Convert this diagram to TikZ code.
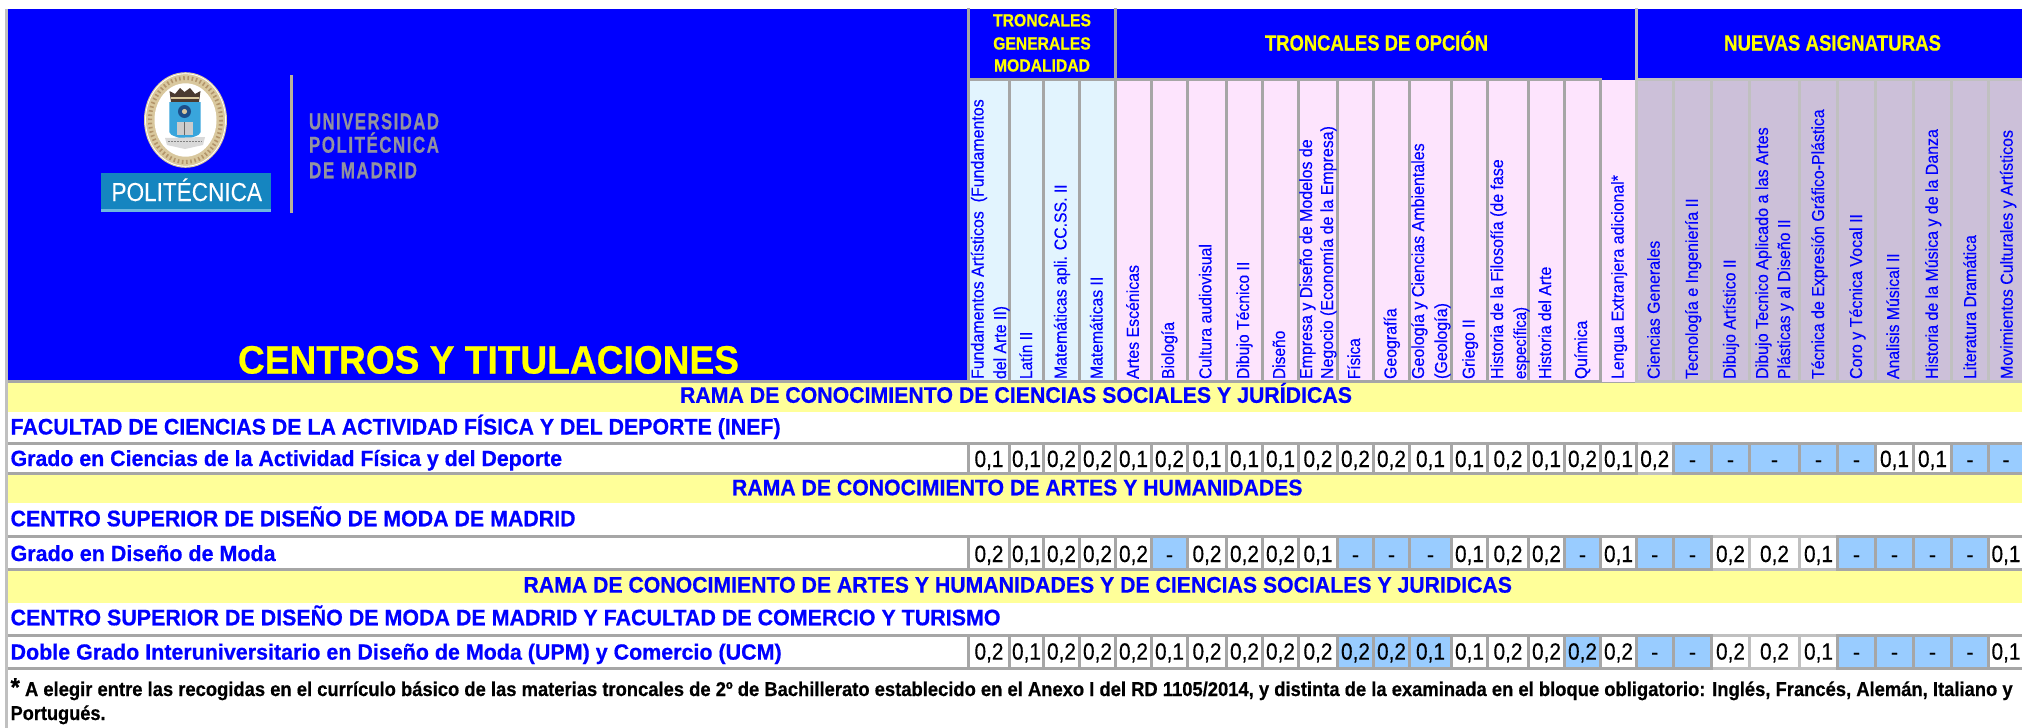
\documentclass[tikz,border=0pt]{standalone}
\usepackage{fontspec}
\setmainfont[BoldFeatures={FakeBold=0.6}]{Liberation Sans}
\newfontfamily\vfont[FakeBold=0.25]{Liberation Sans}
\definecolor{hblue}{HTML}{0000FF}
\definecolor{hyell}{HTML}{FFFF00}
\definecolor{ryell}{HTML}{FFFF99}
\definecolor{gdark}{HTML}{A6A6A6}
\definecolor{glight}{HTML}{C0C0C0}
\definecolor{cgen}{HTML}{E2F4FE}
\definecolor{copc}{HTML}{FDE4FD}
\definecolor{cnue}{HTML}{CCC0D9}
\definecolor{cval}{HTML}{99CCFF}
\definecolor{upm}{HTML}{1585C0}
\definecolor{upmlight}{HTML}{6FB8DE}
\definecolor{sealtan}{HTML}{D9C89E}
\definecolor{lgray}{HTML}{9292A0}
\definecolor{shield}{HTML}{39A5DC}
\definecolor{sunblue}{HTML}{1D4E89}
\definecolor{crown}{HTML}{4A3A30}
\definecolor{vline}{HTML}{B8B09A}
\tikzset{txt/.style={inner sep=0pt,outer sep=0pt,anchor=base west},
 vtxt/.style={inner sep=0pt,outer sep=0pt,anchor=base west,rotate=90,text=hblue},
 ctxt/.style={inner sep=0pt,outer sep=0pt,anchor=base}}
\newcommand\fitt[3]{\resizebox{#1pt}{\height}{\fontsize{#2}{#2}\selectfont #3}}
\newcommand\fitv[3]{\resizebox{#1pt}{\height}{\vfont\fontsize{#2}{#2}\selectfont #3}}
\newcommand\fitb[3]{\resizebox{#1pt}{\height}{\fontsize{#2}{#2}\selectfont\bfseries #3}}
\newcommand\vlab[4]{\node[vtxt] (#1) at (#2,379) {\fitv{#3}{17.3}{#4}};}
\newcommand\valcell[7]{%
 \ifcase#7\relax
 \or\def\cf{white}\def\ct{\fitv{29}{23.5}{0,1}}%
 \or\def\cf{white}\def\ct{\fitv{29}{23.5}{0,2}}%
 \or\def\cf{cval}\def\ct{\vfont\fontsize{22}{22}\selectfont -}%
 \or\def\cf{cval}\def\ct{\fitv{29}{23.5}{0,1}}%
 \or\def\cf{cval}\def\ct{\fitv{29}{23.5}{0,2}}%
 \fi
 \fill[\cf] (#2,#4) rectangle (#3,#5);
 \pgfmathsetmacro\cx{(#2+#3)/2}
 \node[ctxt] (#1) at (\cx,#6) {\ct};}
\begin{document}
\begin{tikzpicture}[x=1pt,y=-1pt]
\path[use as bounding box] (0,0) rectangle (2022,728);
\fill[white] (0,0) rectangle (2022,728);
% frame
\fill[glight] (5,9) rectangle (8,728);
\fill[hblue] (8,9) rectangle (2022,380);
\fill[gdark] (8,380) rectangle (2022,382.7);
% header dividers
\fill[gdark] (967,8) rectangle (970,382);
\fill[gdark] (1114,8) rectangle (1117,80.7);
\fill[glight] (1635,8) rectangle (1637.7,80.7);
\fill[gdark] (967,78) rectangle (1602,382.7);
\fill[glight] (1635,78) rectangle (2022,382.7);
% bands
\fill[ryell] (8,382.7) rectangle (2022,411.7);
\fill[gdark] (8,442.3) rectangle (2022,445);
\fill[gdark] (8,472.3) rectangle (2022,475);
\fill[ryell] (8,475) rectangle (2022,503.3);
\fill[gdark] (8,535) rectangle (2022,537.7);
\fill[gdark] (8,568.3) rectangle (2022,571);
\fill[ryell] (8,571) rectangle (2022,603);
\fill[gdark] (8,634.3) rectangle (2022,637);
\fill[gdark] (8,667) rectangle (2022,669.7);
% row backgrounds
\fill[gdark] (967,445) rectangle (2022,472.3);
\fill[gdark] (967,537.7) rectangle (2022,568.3);
\fill[gdark] (967,637) rectangle (2022,667);
\fill[glight] (1637.5,442.3) rectangle (1672,475);
\fill[glight] (1713,535) rectangle (1836,571);
\fill[glight] (1713,634.3) rectangle (1836,669.7);
% columns
\foreach \i/\a/\b/\hc/\p/\q/\r in {
 1/970/1008/cgen/1/2/2, 2/1011/1042/cgen/1/1/1, 3/1045/1078/cgen/2/2/2, 4/1081/1114/cgen/2/2/2,
 5/1117/1150/copc/1/2/2, 6/1153/1186/copc/2/3/1, 7/1189/1225/copc/1/2/2, 8/1228/1261/copc/1/2/2,
 9/1264/1297/copc/1/2/2, 10/1300/1336/copc/2/1/2, 11/1339/1372/copc/2/3/5, 12/1375/1408/copc/2/3/5,
 13/1411/1450/copc/1/3/4, 14/1453/1486/copc/1/1/1, 15/1489/1527/copc/2/2/2, 16/1530/1563/copc/1/2/2,
 17/1566/1599/copc/2/3/5, 18/1602/1635/copc/1/1/2,
 19/1637.5/1672/cnue/2/3/3, 20/1675/1710/cnue/3/3/3, 21/1713/1748/cnue/3/2/2, 22/1751/1798/cnue/3/2/2,
 23/1801/1836/cnue/3/1/1, 24/1839/1874/cnue/3/3/3, 25/1877/1912/cnue/1/3/3, 26/1915/1950/cnue/1/3/3,
 27/1953/1987/cnue/3/3/3, 28/1990/2022/cnue/3/1/1}{
 \fill[\hc] (\a,80.7) rectangle (\b,380);
 \valcell{va\i}{\a}{\b}{445}{472.3}{467}{\p}
 \valcell{vb\i}{\a}{\b}{537.7}{568.3}{562}{\q}
 \valcell{vc\i}{\a}{\b}{637}{667}{659.6}{\r}
}
\fill[copc] (1602,80) rectangle (1635,382);
% header titles
\node[txt,text=hyell] (tcentros) at (238,373.5) {\fitb{501}{39.5}{CENTROS Y TITULACIONES}};
\node[ctxt,text=hyell] (tg1) at (1042,26.3) {\fitb{98}{17.5}{TRONCALES}};
\node[ctxt,text=hyell] (tg2) at (1042,49.5) {\fitb{97.5}{17.5}{GENERALES}};
\node[ctxt,text=hyell] (tg3) at (1042,71.5) {\fitb{96}{17.5}{MODALIDAD}};
\node[txt,text=hyell] (topc) at (1265,50.5) {\fitb{223}{22}{TRONCALES DE OPCIÓN}};
\node[txt,text=hyell] (tnue) at (1724,50.5) {\fitb{217}{22}{NUEVAS ASIGNATURAS}};
% vertical labels
\vlab{h1a}{983.5}{279.7}{Fundamentos Artísticos\ \ (Fundamentos}
\vlab{h1b}{1006}{73}{del Arte II)}
\vlab{h2}{1032}{47.3}{Latín II}
\vlab{h3}{1066.5}{194.7}{Matemáticas apli. CC.SS. II}
\vlab{h4}{1102.5}{102.3}{Matemáticas II}
\vlab{h5}{1138.8}{114}{Artes Escénicas}
\vlab{h6}{1174}{57}{Biología}
\vlab{h7}{1211.4}{135}{Cultura audiovisual}
\vlab{h8}{1249}{117.3}{Dibujo Técnico II}
\vlab{h9}{1285}{48.3}{Diseño}
\vlab{h10a}{1312}{239.7}{Empresa y Diseño de Modelos de}
\vlab{h10b}{1333}{253}{Negocio (Economía de la Empresa)}
\vlab{h11}{1360}{40.7}{Física}
\vlab{h12}{1396.4}{70.7}{Geografía}
\vlab{h13a}{1424}{235.7}{Geología y Ciencias Ambientales}
\vlab{h13b}{1447}{76}{(Geología)}
\vlab{h14}{1474.6}{59.7}{Griego II}
\vlab{h15a}{1503}{219.7}{Historia de la Filosofía (de fase}
\vlab{h15b}{1526}{72}{específica)}
\vlab{h16}{1551}{112.3}{Historia del Arte}
\vlab{h17}{1587}{58.3}{Química}
\vlab{h18}{1623.6}{204}{Lengua Extranjera adicional*}
\vlab{h19}{1659.7}{138.3}{Ciencias Generales}
\vlab{h20}{1697.8}{180.7}{Tecnología e Ingeniería II}
\vlab{h21}{1735.5}{119.7}{Dibujo Artístico II}
\vlab{h22a}{1768}{251.7}{Dibujo Tecnico Aplicado a las Artes}
\vlab{h22b}{1790}{159.7}{Plásticas y al Diseño II}
\vlab{h23}{1824}{269.7}{Técnica de Expresión Gráfico-Plástica}
\vlab{h24}{1862}{165}{Coro y Técnica Vocal II}
\vlab{h25}{1899}{125.7}{Analisis Músical II}
\vlab{h26}{1937.8}{250}{Historia de la Música y de la Danza}
\vlab{h27}{1976}{144}{Literatura Dramática}
\vlab{h28}{2012.7}{249}{Movimientos Culturales y Artísticos}
% row texts
\node[txt,text=hblue] (r1) at (680,402.8) {\fitb{672}{22.5}{RAMA DE CONOCIMIENTO DE CIENCIAS SOCIALES Y JURÍDICAS}};
\node[txt,text=hblue] (c1) at (10.6,434.5) {\fitb{770}{22.5}{FACULTAD DE CIENCIAS DE LA ACTIVIDAD FÍSICA Y DEL DEPORTE (INEF)}};
\node[txt,text=hblue] (g1) at (10.6,466) {\fitb{551.5}{22}{Grado en Ciencias de la Actividad Física y del Deporte}};
\node[txt,text=hblue] (r2) at (732,495.3) {\fitb{570.5}{22.5}{RAMA DE CONOCIMIENTO DE ARTES Y HUMANIDADES}};
\node[txt,text=hblue] (c2) at (10.6,526.3) {\fitb{565}{22.5}{CENTRO SUPERIOR DE DISEÑO DE MODA DE MADRID}};
\node[txt,text=hblue] (g2) at (10.6,561) {\fitb{265}{22}{Grado en Diseño de Moda}};
\node[txt,text=hblue] (r3) at (523.5,592.6) {\fitb{988.5}{22.5}{RAMA DE CONOCIMIENTO DE ARTES Y HUMANIDADES Y DE CIENCIAS SOCIALES Y JURIDICAS}};
\node[txt,text=hblue] (c3) at (10.6,625.3) {\fitb{990}{22.5}{CENTRO SUPERIOR DE DISEÑO DE MODA DE MADRID Y FACULTAD DE COMERCIO Y TURISMO}};
\node[txt,text=hblue] (g3) at (10.6,659.6) {\fitb{771}{22}{Doble Grado Interuniversitario en Diseño de Moda (UPM) y Comercio (UCM)}};
% footer
\node[txt] (f1) at (10.6,696) {\fitb{2002}{20}{{\fontsize{26}{26}\selectfont *} A elegir entre las recogidas en el currículo básico de las materias troncales de 2º de Bachillerato establecido en el Anexo I del RD 1105/2014, y distinta de la examinada en el bloque obligatorio: Inglés, Francés, Alemán, Italiano y}};
\node[txt] (f2) at (10.6,720) {\fitb{95}{20}{Portugués.}};
% logo: seal
\fill[sealtan] (185.5,120) ellipse[x radius=41.5,y radius=47.8];
\draw[white,line width=0.8pt] (185.5,120) ellipse[x radius=40,y radius=46.3];
\draw[brown!70!black,line width=4pt,dash pattern=on 1.6pt off 2.6pt,opacity=.45] (185.5,120) ellipse[x radius=35.5,y radius=42];
\fill[white] (185.5,120) ellipse[x radius=31,y radius=36.7];
\fill[crown] (171,102) -- (169.5,91) -- (175,94) -- (180,88) -- (184.5,92) -- (190,88) -- (195,94) -- (200.5,91) -- (199,102) -- cycle;
\fill[sealtan] (171,97) rectangle (199,99);
\fill[shield] (169.3,102) -- (200.7,102) -- (200.7,132) .. controls (200.7,136) and (190,137) .. (185,141) .. controls (180,137) and (169.3,136) .. (169.3,132) -- cycle;
\fill[sunblue] (184.5,111.5) circle (6.5);
\fill[sealtan] (184.5,111.5) circle (2.6);
\fill[black!20!white] (176.5,122) rectangle (192.5,135);
\draw[black!60,line width=.5pt] (184.5,122) -- (184.5,135);
\fill[black!15!white] (165,138) -- (205,137) -- (203,145) -- (185,149) -- (167,145) -- cycle;
\draw[black!50,line width=.7pt,dash pattern=on 1.5pt off 1.5pt] (168,141) -- (202,141);
% logo: badge
\fill[upm] (101.3,173.3) rectangle (271.4,211.7);
\fill[upmlight] (101.3,208.5) rectangle (271.4,211.7);
\node[txt,text=white] (badge) at (111.5,201) {\fitv{150.5}{26}{POLITÉCNICA}};
% logo: rule and wordmark
\fill[vline] (290,75) rectangle (292.8,213);
\node[txt,text=lgray] (w1) at (309,129.3) {\fitb{130}{23}{\addfontfeatures{LetterSpace=9}UNIVERSIDAD}};
\node[txt,text=lgray] (w2) at (309,152.7) {\fitb{130}{23}{\addfontfeatures{LetterSpace=9}POLITÉCNICA}};
\node[txt,text=lgray] (w3) at (309,178.3) {\fitb{108}{23}{\addfontfeatures{LetterSpace=9}DE MADRID}};
\end{tikzpicture}
\end{document}
